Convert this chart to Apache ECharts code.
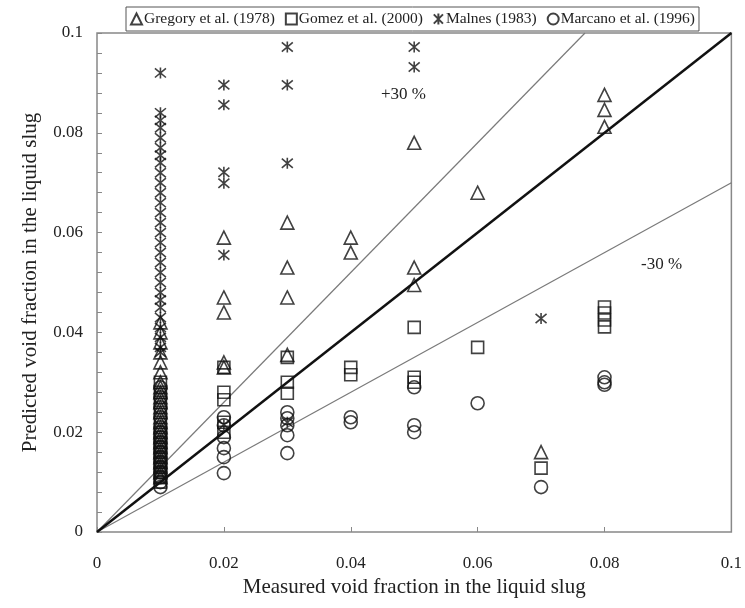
<!DOCTYPE html>
<html>
<head>
<meta charset="utf-8">
<script src="https://cdn.jsdelivr.net/npm/echarts@6/dist/echarts.min.js"></script>
<style>
  html, body { margin: 0; padding: 0; background: #fff; }
  #chart { width: 745px; height: 608px; }
</style>
</head>
<body>
<div id="chart"></div>
<script>
// measured / predicted void fraction pairs
var gregory = [
  [0.01, 0.042], [0.01, 0.040], [0.01, 0.038], [0.01, 0.036], [0.01, 0.034], [0.01, 0.032],
  [0.01, 0.030], [0.01, 0.029], [0.01, 0.028], [0.01, 0.027], [0.01, 0.026], [0.01, 0.025],
  [0.01, 0.024], [0.01, 0.023], [0.01, 0.022], [0.01, 0.021], [0.01, 0.020], [0.01, 0.019],
  [0.01, 0.018], [0.01, 0.017], [0.01, 0.016], [0.01, 0.015], [0.01, 0.014], [0.01, 0.013],
  [0.01, 0.012], [0.01, 0.011],
  [0.02, 0.059], [0.02, 0.047], [0.02, 0.044], [0.02, 0.034], [0.02, 0.033],
  [0.03, 0.062], [0.03, 0.053], [0.03, 0.047], [0.03, 0.0355],
  [0.04, 0.059], [0.04, 0.056],
  [0.05, 0.078], [0.05, 0.053], [0.05, 0.0495],
  [0.06, 0.068],
  [0.07, 0.016],
  [0.08, 0.0876], [0.08, 0.0846], [0.08, 0.0812]
];
var gomez = [
  [0.01, 0.030], [0.01, 0.028], [0.01, 0.026], [0.01, 0.024], [0.01, 0.022], [0.01, 0.020],
  [0.01, 0.019], [0.01, 0.018], [0.01, 0.017], [0.01, 0.016], [0.01, 0.015], [0.01, 0.014],
  [0.01, 0.013], [0.01, 0.012], [0.01, 0.011], [0.01, 0.010],
  [0.02, 0.033], [0.02, 0.028], [0.02, 0.0265], [0.02, 0.022], [0.02, 0.020],
  [0.03, 0.035], [0.03, 0.030], [0.03, 0.0278],
  [0.04, 0.033], [0.04, 0.0315],
  [0.05, 0.041], [0.05, 0.031], [0.05, 0.030],
  [0.06, 0.037],
  [0.07, 0.0128],
  [0.08, 0.0451], [0.08, 0.0439], [0.08, 0.0425], [0.08, 0.0411]
];
var malnes = [
  [0.01, 0.092], [0.01, 0.084], [0.01, 0.0825], [0.01, 0.081], [0.01, 0.079], [0.01, 0.077],
  [0.01, 0.0755], [0.01, 0.074], [0.01, 0.072], [0.01, 0.070], [0.01, 0.068], [0.01, 0.066],
  [0.01, 0.064], [0.01, 0.062], [0.01, 0.060], [0.01, 0.058], [0.01, 0.056], [0.01, 0.054],
  [0.01, 0.052], [0.01, 0.050], [0.01, 0.048], [0.01, 0.0465], [0.01, 0.045], [0.01, 0.043],
  [0.01, 0.041], [0.01, 0.039], [0.01, 0.037], [0.01, 0.036],
  [0.02, 0.0896], [0.02, 0.0856], [0.02, 0.0721], [0.02, 0.0699], [0.02, 0.0555], [0.02, 0.0215],
  [0.03, 0.0972], [0.03, 0.0896], [0.03, 0.0739], [0.03, 0.022],
  [0.05, 0.0972], [0.05, 0.0932],
  [0.07, 0.0428]
];
var marcano = [
  [0.01, 0.029], [0.01, 0.027], [0.01, 0.025], [0.01, 0.023], [0.01, 0.021], [0.01, 0.020],
  [0.01, 0.019], [0.01, 0.018], [0.01, 0.017], [0.01, 0.016], [0.01, 0.015], [0.01, 0.014],
  [0.01, 0.013], [0.01, 0.012], [0.01, 0.011], [0.01, 0.010], [0.01, 0.009],
  [0.02, 0.023], [0.02, 0.0214], [0.02, 0.019], [0.02, 0.0168], [0.02, 0.015], [0.02, 0.0118],
  [0.03, 0.024], [0.03, 0.0228], [0.03, 0.0214], [0.03, 0.0194], [0.03, 0.0158],
  [0.04, 0.023], [0.04, 0.022],
  [0.05, 0.029], [0.05, 0.0214], [0.05, 0.020],
  [0.06, 0.0258],
  [0.07, 0.009],
  [0.08, 0.031], [0.08, 0.030], [0.08, 0.0295]
];
var perfect = [[0, 0], [0.1, 0.1]];
var plus30 = [[0, 0], [0.1 / 1.3, 0.1]];
var minus30 = [[0, 0], [0.1, 0.07]];

var serif = '"Liberation Serif", "DejaVu Serif", serif';
var starPath = 'path://M0,0L10,10M10,0L0,10M5,-1L5,11';

function pointSeries(name, symbol, size, data) {
  return {
    name: name,
    type: 'scatter',
    symbol: symbol,
    symbolSize: size,
    itemStyle: { color: 'rgba(255,255,255,0)', borderColor: '#111', borderWidth: 1.6 },
    data: data
  };
}
function refLine(data, color, width) {
  return {
    type: 'line',
    data: data,
    symbol: 'none',
    silent: true,
    z: 1,
    lineStyle: { color: color, width: width }
  };
}

var chart = echarts.init(document.getElementById('chart'));
chart.setOption({
  animation: false,
  backgroundColor: '#fff',
  grid: { left: 97, right: 12, top: 33, bottom: 76, show: true, borderColor: '#888', borderWidth: 1.5 },
  legend: {
    data: ['Gregory et al. (1978)', 'Gomez et al. (2000)', 'Malnes (1983)', 'Marcano et al. (1996)'],
    top: 7, left: 126,
    itemWidth: 11, itemHeight: 11, itemGap: 10,
    padding: [4, 4],
    borderColor: '#555', borderWidth: 1,
    backgroundColor: '#fff',
    textStyle: { fontFamily: serif, fontSize: 15.5, color: '#222', padding: [0, 0, 0, -3] }
  },
  xAxis: {
    type: 'value', min: 0, max: 0.1, interval: 0.02,
    name: 'Measured void fraction in the liquid slug',
    nameLocation: 'middle', nameGap: 42,
    nameTextStyle: { fontFamily: serif, fontSize: 21, color: '#222' },
    axisLine: { show: false },
    axisTick: { show: true, inside: true, length: 5, lineStyle: { color: '#888' } },
    splitLine: { show: false },
    axisLabel: { fontFamily: serif, fontSize: 17, color: '#222', margin: 23 }
  },
  yAxis: {
    type: 'value', min: 0, max: 0.1, interval: 0.02,
    name: 'Predicted void fraction in the liquid slug',
    nameLocation: 'middle', nameGap: 56,
    nameTextStyle: { fontFamily: serif, fontSize: 21, color: '#222' },
    axisLine: { show: false },
    axisTick: { show: true, inside: true, length: 5, lineStyle: { color: '#888' } },
    minorTick: { show: true, splitNumber: 5, length: 5, lineStyle: { color: '#888' } },
    splitLine: { show: false },
    axisLabel: { fontFamily: serif, fontSize: 17, color: '#222', margin: 14 }
  },
  graphic: [
    { type: 'text', left: 381, top: 86, style: { text: '+30 %', font: '17px ' + serif, fill: '#222' } },
    { type: 'text', left: 641, top: 256, style: { text: '-30 %', font: '17px ' + serif, fill: '#222' } }
  ],
  series: [
    refLine(plus30, '#7a7a7a', 1.2),
    refLine(minus30, '#7a7a7a', 1.2),
    refLine(perfect, '#111', 2.5),
    pointSeries('Gregory et al. (1978)', 'triangle', 13, gregory),
    pointSeries('Gomez et al. (2000)', 'rect', 12, gomez),
    pointSeries('Malnes (1983)', starPath, 11, malnes),
    pointSeries('Marcano et al. (1996)', 'circle', 13, marcano)
  ]
});
</script>
</body>
</html>
